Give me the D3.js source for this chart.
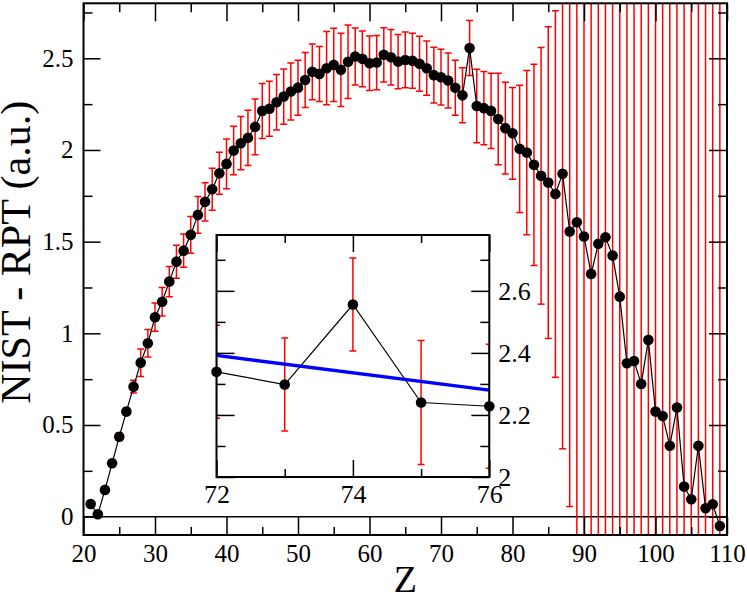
<!DOCTYPE html>
<html>
<head>
<meta charset="utf-8">
<script src="https://cdn.jsdelivr.net/npm/d3@7/dist/d3.min.js"></script>
<style>
  body { margin: 0; background: #fff; }
</style>
</head>
<body>
<div id="chart-area"></div>
<script>

// Data
var zValues = [21, 22, 23, 24, 25, 26, 27, 28, 29, 30,
    31, 32, 33, 34, 35, 36, 37, 38, 39, 40,
    41, 42, 43, 44, 45, 46, 47, 48, 49, 50,
    51, 52, 53, 54, 55, 56, 57, 58, 59, 60,
    61, 62, 63, 64, 65, 66, 67, 68, 69, 70,
    71, 72, 73, 74, 75, 76, 77, 78, 79, 80,
    81, 82, 83, 84, 85, 86, 87, 88, 89, 90,
    91, 92, 93, 94, 95, 96, 97, 98, 99, 100,
    101, 102, 103, 104, 105, 106, 107, 108, 109];

var nistRpt = [0.069, 0.013, 0.146, 0.291, 0.436, 0.573, 0.709, 0.840, 0.946, 1.088,
    1.172, 1.282, 1.391, 1.451, 1.537, 1.646, 1.717, 1.786, 1.873, 1.924,
    1.997, 2.037, 2.066, 2.126, 2.213, 2.225, 2.260, 2.291, 2.319, 2.340,
    2.382, 2.426, 2.415, 2.446, 2.464, 2.437, 2.481, 2.510, 2.497, 2.473,
    2.477, 2.519, 2.506, 2.482, 2.491, 2.486, 2.470, 2.446, 2.408, 2.397,
    2.379, 2.339, 2.298, 2.556, 2.240, 2.228, 2.213, 2.169, 2.119, 2.091,
    2.006, 1.986, 1.919, 1.859, 1.822, 1.760, 1.870, 1.555, 1.606, 1.528,
    1.324, 1.488, 1.524, 1.424, 1.200, 0.837, 0.849, 0.724, 0.964, 0.573,
    0.549, 0.387, 0.595, 0.164, 0.095, 0.387, 0.046, 0.068, -0.051];

var errors = [0.01, 0.01, 0.015, 0.015, 0.02, 0.02, 0.035, 0.075, 0.075, 0.077,
    0.078, 0.082, 0.09, 0.091, 0.1, 0.1, 0.104, 0.115, 0.114, 0.136,
    0.132, 0.145, 0.15, 0.152, 0.15, 0.15, 0.151, 0.151, 0.155, 0.15,
    0.15, 0.152, 0.15, 0.2, 0.2, 0.2, 0.2, 0.155, 0.152, 0.148,
    0.148, 0.148, 0.151, 0.148, 0.152, 0.15, 0.15, 0.148, 0.152, 0.152,
    0.15, 0.15, 0.15, 0.15, 0.2, 0.2, 0.205, 0.25, 0.25, 0.25,
    0.347, 0.448, 0.549, 0.7, 0.85, 1.0, 1.5, 1.5, 2.0, 2.0,
    2.0, 2.0, 2.0, 2.0, 2.0, 2.5, 2.5, 2.5, 2.5, 2.5,
    2.5, 2.5, 2.5, 3.0, 3.0, 3.0, 3.0, 3.0, 3.0];

// Linear fit shown in the inset
var fitZ = [72, 76];
var fitValues = [2.392, 2.280];

// Tick values
var xMajorTicks = [20, 30, 40, 50, 60, 70, 80, 90, 100, 110];
var xMinorTicks = [25, 35, 45, 55, 65, 75, 85, 95, 105];
var yMajorTicks = [0, 0.5, 1, 1.5, 2, 2.5];
var yMinorTicks = [0.25, 0.75, 1.25, 1.75, 2.25, 2.75];
var insetXMajor = [72, 74, 76];
var insetXMinor = [73, 75];
var insetYMajor = [2, 2.2, 2.4, 2.6];
var insetYMinor = [2.1, 2.3, 2.5, 2.7];

var serif = "'Liberation Serif'";

var points = zValues.map(function(z, i){
    return { z: z, v: nistRpt[i], e: errors[i] };
});

var W = 747, H = 599;
var margin = { left: 83.5, right: 20, top: 3.3, bottom: 64 };
var width = W - margin.left - margin.right,
    height = H - margin.top - margin.bottom;

var svg = d3.select("#chart-area")
    .append("svg")
        .attr("width", W)
        .attr("height", H);

svg.append("defs").append("clipPath")
    .attr("id", "main-clip")
  .append("rect")
    .attr("width", width)
    .attr("height", height);

var g = svg.append("g")
    .attr("transform", "translate(" + margin.left + ", " + margin.top + ")");

// Scales
var x = d3.scaleLinear().domain([20, 110]).range([0, width]);
var y = d3.scaleLinear().domain([-0.1, 2.8]).range([height, 0]);

// Zero line
g.append("line")
    .attr("x1", 0).attr("x2", width)
    .attr("y1", y(0)).attr("y2", y(0))
    .attr("stroke", "#000").attr("stroke-width", 1.5);

// Error bars
var plotArea = g.append("g").attr("clip-path", "url(#main-clip)");
var cap = 3.5;
var bars = plotArea.selectAll("g.err").data(points).enter()
    .append("g").attr("class", "err")
    .attr("stroke", "#ff0000").attr("stroke-width", 1.5);
bars.append("line")
    .attr("x1", function(d){ return x(d.z); })
    .attr("x2", function(d){ return x(d.z); })
    .attr("y1", function(d){ return y(d.v + d.e); })
    .attr("y2", function(d){ return y(d.v - d.e); });
bars.append("line")
    .attr("x1", function(d){ return x(d.z) - cap; })
    .attr("x2", function(d){ return x(d.z) + cap; })
    .attr("y1", function(d){ return y(d.v + d.e); })
    .attr("y2", function(d){ return y(d.v + d.e); });
bars.append("line")
    .attr("x1", function(d){ return x(d.z) - cap; })
    .attr("x2", function(d){ return x(d.z) + cap; })
    .attr("y1", function(d){ return y(d.v - d.e); })
    .attr("y2", function(d){ return y(d.v - d.e); });

// Line and symbols
var line = d3.line()
    .x(function(d){ return x(d.z); })
    .y(function(d){ return y(d.v); });
plotArea.append("path")
    .datum(points)
    .attr("d", line)
    .attr("fill", "none")
    .attr("stroke", "#000")
    .attr("stroke-width", 1.2);
g.selectAll("circle.pt").data(points).enter()
    .append("circle").attr("class", "pt")
    .attr("cx", function(d){ return x(d.z); })
    .attr("cy", function(d){ return y(d.v); })
    .attr("r", 5.3)
    .attr("fill", "#000");

// Axes with inward ticks on all four sides
function drawAxis(parent, axisFn, scale, major, minor, bigLen, smallLen, pos, labels) {
    var a = parent.append("g").attr("transform", pos);
    a.call(axisFn(scale).tickValues(major).tickSize(-bigLen).tickSizeOuter(0)
        .tickFormat(labels ? function(d){ return d3.format("~g")(d); } : ""));
    a.append("g").call(axisFn(scale).tickValues(minor).tickSize(-smallLen).tickSizeOuter(0).tickFormat(""));
    a.selectAll(".domain").remove();
    a.selectAll("line").attr("stroke", "#000").attr("stroke-width", 1.5);
    a.selectAll("text").style("font-family", serif).attr("fill", "#000");
    return a;
}

var xAxisB = drawAxis(g, d3.axisBottom, x, xMajorTicks, xMinorTicks, 18, 8,
    "translate(0," + height + ")", true);
xAxisB.selectAll("text")
    .attr("y", 9).attr("dy", "0.71em")
    .style("font-size", "25px");
drawAxis(g, d3.axisTop, x, xMajorTicks, xMinorTicks, 18, 9, "translate(0,0)", false);

var yAxisL = drawAxis(g, d3.axisLeft, y, yMajorTicks, yMinorTicks, 17, 9, "translate(0,0)", true);
yAxisL.selectAll("text")
    .attr("x", -10)
    .style("font-size", "25px");
drawAxis(g, d3.axisRight, y, yMajorTicks, yMinorTicks, 18, 9, "translate(" + width + ",0)", false);

// Frame
g.append("rect")
    .attr("width", width).attr("height", height)
    .attr("fill", "none").attr("stroke", "#000").attr("stroke-width", 2);

// Labels
g.append("text")
    .attr("x", width / 2)
    .attr("y", height + 57)
    .style("font-family", serif)
    .style("font-size", "38px")
    .attr("text-anchor", "middle")
    .text("Z");

g.append("text")
    .attr("transform", "translate(" + (-margin.left + 30) + "," + 249 + ") rotate(-90)")
    .style("font-family", serif)
    .style("font-size", "42px")
    .attr("text-anchor", "middle")
    .text("NIST - RPT (a.u.)");

// Inset
var inset = { left: 216.5, top: 235, right: 489.3, bottom: 477 };
var iw = inset.right - inset.left, ih = inset.bottom - inset.top;

svg.select("defs").append("clipPath")
    .attr("id", "inset-clip")
  .append("rect")
    .attr("width", iw)
    .attr("height", ih);

var gi = svg.append("g")
    .attr("transform", "translate(" + inset.left + "," + inset.top + ")");

gi.append("rect").attr("width", iw).attr("height", ih).attr("fill", "#fff");

var xi = d3.scaleLinear().domain([72, 76]).range([0, iw]);
var yi = d3.scaleLinear().domain([2, 2.78]).range([ih, 0]);

var insetPoints = points.filter(function(d){ return d.z >= 71 && d.z <= 77; });
var insetShown = points.filter(function(d){ return d.z >= 72 && d.z <= 76; });

var insetArea = gi.append("g").attr("clip-path", "url(#inset-clip)");
var ibars = insetArea.selectAll("g.err").data(insetPoints).enter()
    .append("g").attr("class", "err")
    .attr("stroke", "#ff0000").attr("stroke-width", 1.5);
ibars.append("line")
    .attr("x1", function(d){ return xi(d.z); })
    .attr("x2", function(d){ return xi(d.z); })
    .attr("y1", function(d){ return yi(d.v + d.e); })
    .attr("y2", function(d){ return yi(d.v - d.e); });
ibars.append("line")
    .attr("x1", function(d){ return xi(d.z) - cap; })
    .attr("x2", function(d){ return xi(d.z) + cap; })
    .attr("y1", function(d){ return yi(d.v + d.e); })
    .attr("y2", function(d){ return yi(d.v + d.e); });
ibars.append("line")
    .attr("x1", function(d){ return xi(d.z) - cap; })
    .attr("x2", function(d){ return xi(d.z) + cap; })
    .attr("y1", function(d){ return yi(d.v - d.e); })
    .attr("y2", function(d){ return yi(d.v - d.e); });

var iline = d3.line()
    .x(function(d){ return xi(d.z); })
    .y(function(d){ return yi(d.v); });
insetArea.append("path")
    .datum(insetPoints)
    .attr("d", iline)
    .attr("fill", "none")
    .attr("stroke", "#000")
    .attr("stroke-width", 1.2);

// Fit line
insetArea.append("path")
    .datum(fitZ.map(function(z, i){ return { z: z, v: fitValues[i] }; }))
    .attr("d", iline)
    .attr("fill", "none")
    .attr("stroke", "#0000ff")
    .attr("stroke-width", 3.5);

var ixB = drawAxis(gi, d3.axisBottom, xi, insetXMajor, insetXMinor, 17, 8, "translate(0," + ih + ")", true);
ixB.selectAll("text").attr("y", 8).attr("dy", "0.71em")
    .style("font-size", "26px");
drawAxis(gi, d3.axisTop, xi, insetXMajor, insetXMinor, 17, 8, "translate(0,0)", false);
drawAxis(gi, d3.axisLeft, yi, insetYMajor, insetYMinor, 18, 9, "translate(0,0)", false);
var iyR = drawAxis(gi, d3.axisRight, yi, insetYMajor, insetYMinor, 18, 9, "translate(" + iw + ",0)", true);
iyR.selectAll("text").attr("x", 9)
    .style("font-size", "26px");

gi.append("rect")
    .attr("width", iw).attr("height", ih)
    .attr("fill", "none").attr("stroke", "#000").attr("stroke-width", 2);

gi.selectAll("circle.pt").data(insetShown).enter()
    .append("circle").attr("class", "pt")
    .attr("cx", function(d){ return xi(d.z); })
    .attr("cy", function(d){ return yi(d.v); })
    .attr("r", 5.3)
    .attr("fill", "#000");

</script>
</body>
</html>
